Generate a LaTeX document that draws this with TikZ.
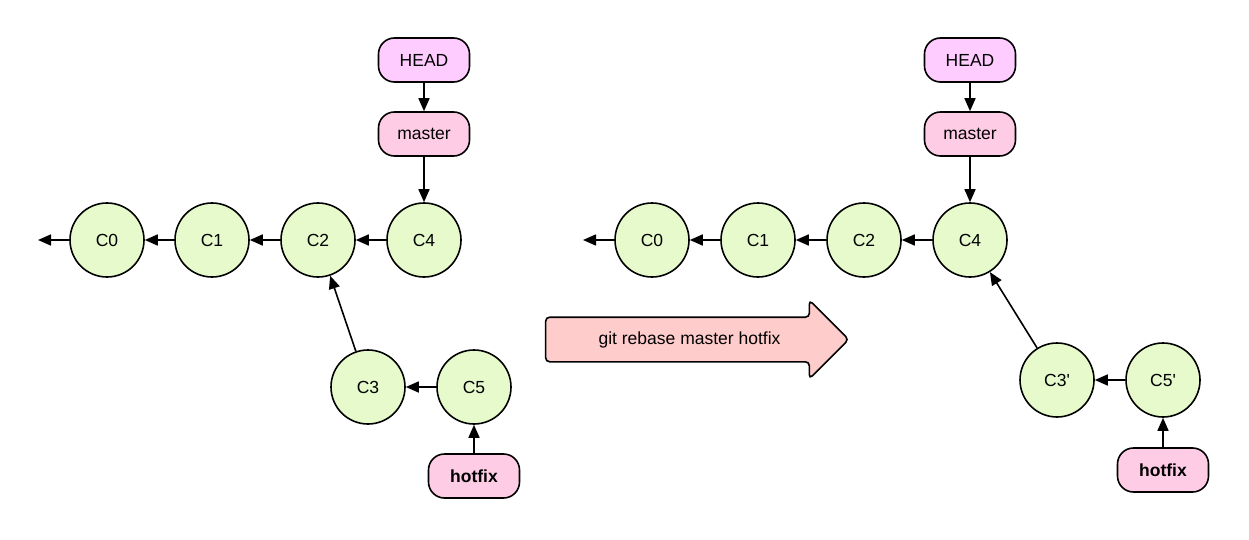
\documentclass[tikz,border=0pt]{standalone}
\usepackage{fontspec}
\setmainfont{Liberation Sans}
\usetikzlibrary{arrows.meta,shapes.arrows}
\definecolor{commitfill}{HTML}{E6FACC}
\definecolor{headfill}{HTML}{FFCCFF}
\definecolor{branchfill}{HTML}{FFCCE6}
\definecolor{arrowfill}{HTML}{FFCCCC}
\begin{document}
\begin{tikzpicture}[x=1pt,y=-1pt,
  lbl/.style={font=\fontsize{17.5}{20}\selectfont},
  commit/.style={circle,draw,line width=1.6pt,fill=commitfill,minimum size=74pt,inner sep=0pt,lbl},
  reflabel/.style={rounded corners=16pt,draw,line width=1.6pt,minimum width=91pt,minimum height=44pt,inner sep=0pt,lbl},
  headbox/.style={reflabel,fill=headfill},
  branchbox/.style={reflabel,fill=branchfill},
  link/.style={line width=1.6pt,-{Triangle[length=13pt,width=11pt]}}]
\useasboundingbox (0,0) rectangle (1249,540);
% left side
\node[commit] (lc0) at (107,240) {C0};
\node[commit] (lc1) at (212,240) {C1};
\node[commit] (lc2) at (318,240) {C2};
\node[commit] (lc4) at (424,240) {C4};
\node[commit] (lc3) at (368,387) {C3};
\node[commit] (lc5) at (474,387) {C5};
\node[headbox] (lhead) at (424,60) {HEAD};
\node[branchbox] (lmaster) at (424,134) {master};
\node[branchbox,font=\fontsize{17.5}{20}\selectfont\bfseries] (lhotfix) at (474,476) {hotfix};
\coordinate (lend) at (38,240);
\draw[link] (lc0) -- (lend);
\draw[link] (lc1) -- (lc0);
\draw[link] (lc2) -- (lc1);
\draw[link] (lc4) -- (lc2);
\draw[link] (lc3) -- (lc2);
\draw[link] (lc5) -- (lc3);
\draw[link] (lhead) -- (lmaster);
\draw[link] (lmaster) -- (lc4);
\draw[link] (lhotfix) -- (lc5);
% big arrow
\node[single arrow,draw,line width=1.6pt,fill=arrowfill,rounded corners=4pt,
  minimum height=303pt,minimum width=0pt,inner sep=0pt,text height=43pt,text width=0pt,
  single arrow head extend=17pt,single arrow tip angle=90,
  single arrow head indent=0pt] (cmd) at (686,339.5) {};
\node[lbl] (cmdtext) at (689.5,339.5) {git rebase master hotfix};
% right side
\node[commit] (rc0) at (652,240) {C0};
\node[commit] (rc1) at (758,240) {C1};
\node[commit] (rc2) at (864,240) {C2};
\node[commit] (rc4) at (970,240) {C4};
\node[commit] (rc3) at (1057,380) {C3\textquotesingle};
\node[commit] (rc5) at (1163,380) {C5\textquotesingle};
\node[headbox] (rhead) at (970,60) {HEAD};
\node[branchbox] (rmaster) at (970,134) {master};
\node[branchbox,font=\fontsize{17.5}{20}\selectfont\bfseries] (rhotfix) at (1163,470) {hotfix};
\coordinate (rend) at (583,240);
\draw[link] (rc0) -- (rend);
\draw[link] (rc1) -- (rc0);
\draw[link] (rc2) -- (rc1);
\draw[link] (rc4) -- (rc2);
\draw[link] (rc3) -- (rc4);
\draw[link] (rc5) -- (rc3);
\draw[link] (rhead) -- (rmaster);
\draw[link] (rmaster) -- (rc4);
\draw[link] (rhotfix) -- (rc5);
\end{tikzpicture}
\end{document}
